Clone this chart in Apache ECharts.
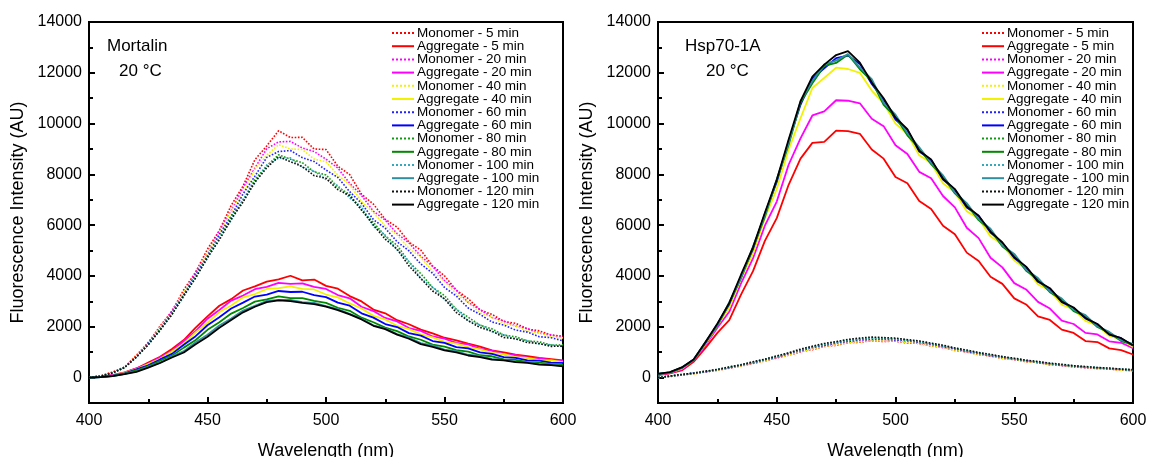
<!DOCTYPE html>
<html><head><meta charset="utf-8">
<script src="https://cdn.jsdelivr.net/npm/echarts@6/dist/echarts.min.js"></script>
<style>html,body{margin:0;padding:0;background:#fff}#c{width:1149px;height:457px}</style>
</head><body><div id="c"></div>
<script>
const wavelengths = [400,405,410,415,420,425,430,435,440,445,450,455,460,465,470,475,480,485,490,495,500,505,510,515,520,525,530,535,540,545,550,555,560,565,570,575,580,585,590,595,600];
const seriesNames = ['Monomer - 5 min','Aggregate - 5 min','Monomer - 20 min','Aggregate - 20 min','Monomer - 40 min','Aggregate - 40 min','Monomer - 60 min','Aggregate - 60 min','Monomer - 80 min','Aggregate - 80 min','Monomer - 100 min','Aggregate - 100 min','Monomer - 120 min','Aggregate - 120 min'];
const yTickLabels = [0,2000,4000,6000,8000,10000,12000,14000];
const yMinorTicks = [1000,3000,5000,7000,9000,11000,13000];

// Mortalin, 20 °C
const mortMon5   = [0,70,220,410,880,1370,2030,2610,3460,4150,5060,5790,6780,7540,8580,9120,9720,9450,9460,9000,8980,8320,7990,7220,6830,6230,5920,5330,5020,4390,4010,3440,3110,2660,2490,2210,2140,1910,1840,1670,1630];
const mortAgg5   = [0,30,95,210,360,590,820,1130,1480,1970,2410,2830,3090,3430,3590,3780,3870,4010,3830,3860,3610,3500,3210,3000,2680,2530,2260,2100,1890,1740,1570,1470,1340,1220,1070,990,900,840,780,730,680];
const mortMon20  = [0,65,195,420,830,1390,1940,2630,3320,4150,4900,5790,6560,7470,8250,9010,9280,9300,9040,8900,8600,8250,7650,7170,6550,6200,5670,5300,4780,4380,3820,3440,2960,2680,2370,2230,2030,1930,1750,1690,1570];
const mortAgg20  = [0,28,92,185,360,540,800,1050,1440,1830,2320,2660,3030,3230,3480,3570,3730,3690,3710,3570,3490,3250,3120,2790,2620,2350,2210,1950,1840,1620,1530,1370,1310,1130,1060,920,880,790,760,690,660];
const mortMon40  = [0,65,200,400,845,1335,1960,2560,3350,4050,4920,5650,6540,7260,8200,8760,9170,9000,8980,8600,8500,7970,7600,6930,6500,5960,5620,5080,4740,4180,3800,3290,2950,2550,2370,2120,2030,1830,1760,1600,1560];
const mortAgg40  = [0,26,80,185,330,535,740,1030,1330,1780,2160,2580,2840,3160,3290,3490,3520,3590,3490,3470,3270,3160,2920,2720,2430,2290,2040,1910,1700,1580,1410,1340,1200,1110,970,920,810,780,690,680,610];
const mortMon60  = [0,60,185,410,810,1350,1890,2580,3250,4070,4790,5640,6360,7230,7930,8670,8900,8940,8660,8510,8170,7880,7320,6860,6220,5880,5350,4990,4470,4110,3550,3210,2740,2490,2190,2070,1870,1790,1610,1570,1450];
const mortAgg60  = [0,24,80,165,320,480,715,935,1290,1630,2060,2380,2720,2950,3190,3270,3410,3370,3380,3250,3170,2950,2830,2530,2360,2110,1990,1750,1650,1440,1370,1200,1150,990,930,810,780,680,670,590,580];
const mortMon80  = [0,60,190,395,825,1290,1910,2490,3270,3950,4790,5490,6330,6990,7800,8340,8770,8600,8460,8100,7980,7500,7210,6600,6110,5570,5210,4550,4090,3550,3230,2680,2380,2060,1920,1670,1610,1440,1410,1280,1290];
const mortAgg80  = [0,22,72,145,290,440,665,865,1180,1480,1880,2180,2520,2740,2990,3080,3200,3130,3130,3020,2940,2750,2630,2360,2180,1970,1830,1620,1490,1300,1220,1080,1020,880,840,720,700,610,590,530,510];
const mortMon100 = [0,60,175,400,795,1320,1840,2530,3180,3990,4690,5510,6190,7020,7660,8370,8640,8650,8280,8130,7800,7560,7070,6730,5950,5610,5030,4570,3900,3560,3080,2700,2230,2080,1810,1690,1510,1460,1320,1290,1220];
const mortAgg100 = [0,20,62,145,245,420,590,825,1040,1390,1690,2050,2330,2640,2830,3020,3060,3060,2970,2940,2810,2700,2510,2320,2060,1940,1710,1580,1360,1270,1100,1040,900,850,740,700,630,600,530,510,460];
const mortMon120 = [0,55,185,395,810,1290,1870,2480,3230,3920,4730,5420,6240,6910,7700,8260,8700,8500,8310,7950,7850,7400,7160,6600,6010,5450,5060,4400,3900,3410,3100,2560,2240,1970,1830,1580,1530,1380,1340,1230,1240];
const mortAgg120 = [0,20,60,135,225,390,575,790,990,1310,1610,1960,2270,2570,2790,2970,3040,3010,2940,2890,2790,2660,2490,2290,2040,1910,1690,1530,1320,1210,1070,990,870,810,710,680,610,580,510,490,440];

// Hsp70-1A, 20 °C
const hspMon5   = [0,40,110,150,230,280,380,450,570,650,780,880,1020,1100,1230,1270,1380,1390,1460,1420,1440,1360,1350,1240,1200,1070,1020,900,860,750,720,620,600,500,490,410,400,350,340,290,280];
const hspAgg5   = [100,170,280,620,1170,1760,2260,3280,4190,5380,6280,7590,8620,9240,9280,9720,9700,9600,8980,8620,7900,7650,6950,6640,5980,5640,4920,4590,3970,3690,3120,2880,2410,2270,1890,1760,1440,1400,1150,1080,910];
const hspMon20  = [0,60,95,175,215,305,370,480,560,680,770,910,1020,1150,1220,1320,1370,1440,1450,1470,1430,1410,1340,1280,1180,1110,1000,940,840,790,700,660,580,540,470,450,390,380,330,320,270];
const hspAgg20  = [120,180,320,680,1270,1960,2590,3720,4690,5980,6930,8380,9420,10320,10480,10920,10900,10800,10190,9900,9150,8800,8100,7850,7150,6700,5900,5490,4720,4340,3720,3470,2980,2720,2240,2110,1760,1700,1430,1370,1160];
const hspMon40  = [0,50,105,150,230,280,385,455,575,655,785,885,1030,1120,1230,1290,1380,1410,1460,1440,1440,1380,1350,1250,1190,1080,1010,910,850,760,710,630,590,510,480,420,400,350,340,290,280];
const hspAgg40  = [140,200,350,700,1320,2050,2750,3910,4890,6280,7430,8980,10210,11400,11800,12200,12150,12000,11300,10800,10000,9600,8750,8450,7650,7300,6550,6250,5560,5240,4610,4290,3670,3430,2870,2680,2230,2050,1640,1500,1210];
const hspMon60  = [0,65,105,180,225,315,385,495,580,705,800,950,1060,1190,1260,1370,1420,1490,1500,1520,1480,1460,1380,1320,1220,1140,1030,960,860,810,720,670,590,550,480,460,400,390,340,330,280];
const hspAgg60  = [150,205,380,715,1360,2110,2890,4010,5060,6450,7700,9310,10740,11780,12180,12580,12680,12350,11560,10950,10160,9750,8900,8570,7800,7400,6700,6370,5710,5310,4710,4350,3770,3500,2970,2740,2330,2100,1690,1550,1250];
const hspMon80  = [0,55,120,170,245,310,410,495,610,705,835,955,1095,1205,1305,1385,1465,1505,1545,1535,1525,1465,1415,1325,1255,1145,1065,965,895,805,745,665,615,545,505,455,425,385,365,325,305];
const hspAgg80  = [150,195,390,680,1390,2040,2930,3920,5120,6330,7780,9170,10820,11590,12270,12390,12720,12140,11680,10740,10270,9540,9020,8400,7920,7250,6820,6200,5810,5160,4820,4210,3870,3360,3080,2620,2420,1990,1770,1440,1300];
const hspMon100 = [0,65,110,185,240,325,405,510,605,725,835,975,1095,1225,1315,1405,1475,1535,1555,1565,1525,1485,1415,1345,1255,1165,1065,985,895,825,745,685,615,565,505,470,420,400,360,340,300];
const hspAgg100 = [150,200,395,690,1400,2060,2960,3950,5160,6390,7810,9220,10880,11680,12330,12480,12740,12210,11750,10820,10350,9620,9070,8450,7960,7290,6870,6240,5860,5200,4870,4250,3920,3400,3110,2660,2460,2020,1800,1470,1330];
const hspMon120 = [0,60,125,175,255,320,420,505,625,725,855,975,1120,1235,1345,1415,1505,1555,1595,1575,1555,1495,1445,1355,1275,1165,1085,985,915,825,765,685,635,565,525,465,435,395,375,335,315];
const hspAgg120 = [150,215,400,715,1400,2120,2940,4060,5130,6490,7790,9370,10880,11850,12320,12700,12850,12400,11620,11000,10230,9780,8930,8590,7830,7420,6740,6370,5750,5320,4740,4370,3790,3520,2990,2760,2340,2110,1700,1550,1270];

const mortData = [mortMon5,mortAgg5,mortMon20,mortAgg20,mortMon40,mortAgg40,mortMon60,mortAgg60,mortMon80,mortAgg80,mortMon100,mortAgg100,mortMon120,mortAgg120];
const hspData  = [hspMon5,hspAgg5,hspMon20,hspAgg20,hspMon40,hspAgg40,hspMon60,hspAgg60,hspMon80,hspAgg80,hspMon100,hspAgg100,hspMon120,hspAgg120];
const lineColors = ['#ff0000','#ff0000','#ff00ff','#ff00ff','#f2f200','#f2f200','#2222ff','#0000ff','#119911','#008800','#33aabb','#2f8f9f','#111111','#000000'];

const FONT = 'Liberation Sans, Arial, sans-serif';
const chart = echarts.init(document.getElementById('c'), null, {renderer:'canvas'});

function mkSeries(dataArr, gi){
  return dataArr.map((arr, k) => ({
    name: seriesNames[k], type:'line', xAxisIndex: gi, yAxisIndex: gi*2,
    symbol:'none', showSymbol:false, animation:false, silent:true,
    color: lineColors[k],
    lineStyle: { color: lineColors[k], width: k%2===0 ? 1.6 : 1.8, type: k%2===0 ? 'dotted' : 'solid' },
    data: wavelengths.map((w,i)=>[w, arr[i]])
  }));
}
const grids = [
  {left:89, right:586, top:22, bottom:54},
  {left:658, right:16, top:22, bottom:54}
];
function xAx(gi){
  return {type:'value', gridIndex:gi, min:400, max:600, interval:50,
    name:'Wavelength (nm)', nameLocation:'middle', nameGap:39,
    nameTextStyle:{fontFamily:FONT, fontSize:18, color:'#000'},
    axisLine:{show:true, onZero:false, lineStyle:{color:'#000', width:2}},
    axisTick:{show:true, inside:true, length:6, lineStyle:{color:'#000', width:2}},
    minorTick:{show:true, splitNumber:2, length:4, lineStyle:{color:'#000', width:2}},
    axisLabel:{fontFamily:FONT, fontSize:16, color:'#000', margin:10, formatter: v => String(v)},
    splitLine:{show:false}, minorSplitLine:{show:false}};
}
function yAx(gi){
  return [{type:'value', gridIndex:gi, min:-1000, max:14000, interval:1000, position:'left',
    name:'Fluorescence Intensity (AU)', nameLocation:'middle', nameGap:62, nameRotate:90,
    nameTextStyle:{fontFamily:FONT, fontSize:18, color:'#000'},
    axisLine:{show:true, onZero:false, lineStyle:{color:'#000', width:2}},
    axisTick:{show:true, inside:true, length:6, customValues: yTickLabels, lineStyle:{color:'#000', width:2}},
    axisLabel:{fontFamily:FONT, fontSize:16, color:'#000', margin:7, customValues: yTickLabels, formatter: v => String(v)},
    splitLine:{show:false}},
   {type:'value', gridIndex:gi, min:-1000, max:14000, interval:1000, position:'left',
    axisLine:{show:false},
    axisTick:{show:true, inside:true, length:4, customValues: yMinorTicks, lineStyle:{color:'#000', width:2}},
    axisLabel:{show:false}, splitLine:{show:false}}];
}
function legendAt(left){
  return {orient:'vertical', left:left, top:21, itemWidth:22, itemHeight:12, itemGap:-0.8,
    selectedMode:false, data: seriesNames,
    itemStyle:{opacity:0},
    textStyle:{fontFamily:FONT, fontSize:13.5, color:'#000', padding:[0,0,0,-2]}};
}
const option = {
  backgroundColor:'#fff', animation:false,
  grid: grids.map(g=>Object.assign({show:true, borderColor:'#000', borderWidth:2, backgroundColor:'transparent', outerBoundsMode:'none', containLabel:false}, g)),
  xAxis:[xAx(0), xAx(1)],
  yAxis:[...yAx(0), ...yAx(1)],
  legend:[legendAt(386), legendAt(976)],
  graphic:[
    {type:'text', left:107, top:38, style:{text:'Mortalin', font:'17px '+FONT, fill:'#000'}},
    {type:'text', left:119, top:63, style:{text:'20 °C', font:'17px '+FONT, fill:'#000'}},
    {type:'text', left:685, top:38, style:{text:'Hsp70-1A', font:'17px '+FONT, fill:'#000'}},
    {type:'text', left:706, top:63, style:{text:'20 °C', font:'17px '+FONT, fill:'#000'}}
  ],
  series:[...mkSeries(mortData,0), ...mkSeries(hspData,1)]
};
chart.setOption(option);
</script></body></html>
